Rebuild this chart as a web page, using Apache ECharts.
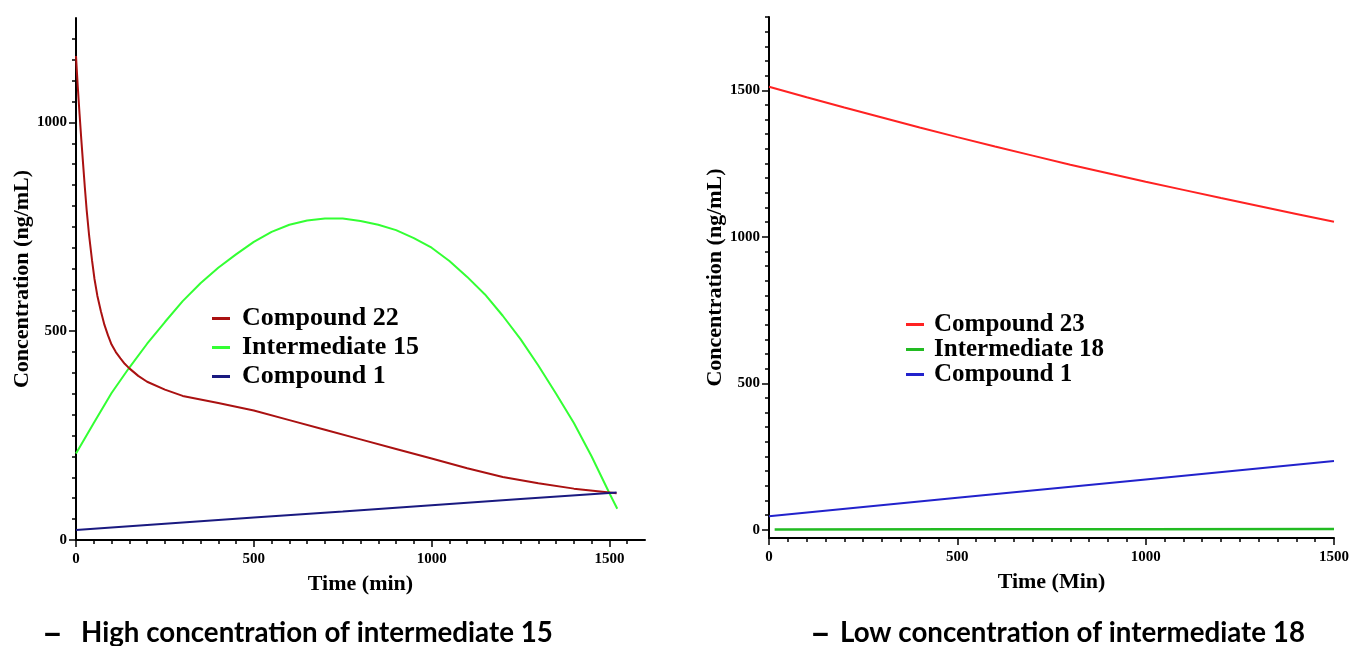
<!DOCTYPE html>
<html>
<head>
<meta charset="utf-8">
<title>Concentration vs time</title>
<script src="https://cdn.jsdelivr.net/npm/echarts@6/dist/echarts.min.js"></script>
<style>
  html, body { margin: 0; padding: 0; background: #fff; }
  #chart { width: 1352px; height: 646px; }
</style>
</head>
<body>
<div id="chart"></div>
<script>
// ---- left panel: high concentration of intermediate 15 ----
var leftTime22 = [0, 5, 10, 15, 20, 25, 30, 37, 45, 52, 60, 70, 80, 90, 100, 112, 125, 137, 150, 175, 200, 250, 300, 400, 500, 600, 700, 800, 900, 1000, 1100, 1200, 1300, 1400, 1520];
var leftConc22 = [1159, 1085, 1020, 958, 900, 843, 790, 728, 670, 625, 585, 548, 515, 490, 468, 450, 435, 422, 411, 393, 379, 360, 345, 328, 310, 287, 264, 241, 218, 195, 172, 151, 136, 123, 112];
var leftTime15 = [0, 50, 100, 150, 200, 250, 300, 350, 400, 450, 500, 550, 600, 650, 700, 750, 800, 850, 900, 950, 1000, 1050, 1100, 1150, 1200, 1250, 1300, 1350, 1400, 1450, 1500, 1522];
var leftConc15 = [207, 280, 352, 413, 470, 522, 572, 615, 652, 684, 714, 738, 755, 765, 770, 770, 764, 755, 742, 723, 700, 668, 630, 588, 537, 481, 418, 350, 280, 200, 112, 75];
var leftTime1 = [0, 250, 500, 750, 1000, 1250, 1520];
var leftConc1 = [24, 39, 54, 68, 83, 98, 114];

// ---- right panel: low concentration of intermediate 18 ----
var rightTime23 = [0, 100, 200, 300, 400, 500, 600, 700, 800, 900, 1000, 1100, 1200, 1300, 1400, 1500];
var rightConc23 = [1512, 1476, 1441, 1407, 1373, 1340, 1308, 1277, 1246, 1217, 1188, 1160, 1132, 1105, 1078, 1051];
var rightTime18 = [15, 500, 1000, 1500];
var rightConc18 = [1, 2, 2, 3];
var rightTime1 = [0, 500, 1000, 1500];
var rightConc1 = [46, 109, 172, 235];

// tick labels
var leftXTicks = [0, 500, 1000, 1500];
var leftYTicks = [0, 500, 1000];
var rightXTicks = [0, 500, 1000, 1500];
var rightYTicks = [0, 500, 1000, 1500];

var serif = '"Liberation Serif", "Times New Roman", serif';
var capFont = 'bold 27.7px Lato, "Open Sans", sans-serif';
var dashFont = 'bold 36px Lato, "Open Sans", sans-serif';

function zip(xs, ys) {
  return xs.map(function (x, i) { return [x, ys[i]]; });
}

// minor ticks every 50 for the right y axis (its min is not on a tick)
var rightYMinor = [];
for (var v = 0; v <= 1750; v += 50) rightYMinor.push(v);

function plain(v) { return String(v); }

function tickLabel(values, margin) {
  return { fontFamily: serif, fontWeight: 'bold', fontSize: 15, color: '#000', margin: margin, customValues: values, formatter: plain };
}
function majorTick(values) {
  return { show: true, length: 7, customValues: values, lineStyle: { color: '#000', width: 1.5 } };
}

function valueAxis(opt) {
  return Object.assign({
    type: 'value',
    nameLocation: 'middle',
    nameTextStyle: { fontFamily: serif, fontWeight: 'bold', fontSize: 22, color: '#000' },
    axisLine: { show: true, onZero: false, lineStyle: { color: '#000', width: 2 } },
    minorTick: { show: true, splitNumber: 10, length: 4, lineStyle: { color: '#000', width: 1.5 } },
    splitLine: { show: false },
    minorSplitLine: { show: false }
  }, opt);
}

var option = {
  backgroundColor: '#fff',
  animation: false,
  grid: [
    { left: 76, top: 18, width: 569, height: 522 },
    { left: 769, top: 17, width: 567, height: 521 }
  ],
  xAxis: [
    valueAxis({
      gridIndex: 0, min: 0, max: 1600, interval: 500,
      name: 'Time (min)', nameGap: 33,
      axisTick: majorTick(leftXTicks),
      axisLabel: tickLabel(leftXTicks, 12)
    }),
    valueAxis({
      gridIndex: 1, min: 0, max: 1500, interval: 500,
      name: 'Time (Min)', nameGap: 33,
      axisTick: majorTick(rightXTicks),
      axisLabel: tickLabel(rightXTicks, 12)
    })
  ],
  yAxis: [
    valueAxis({
      gridIndex: 0, min: 0, max: 1250, interval: 500, position: 'left',
      name: 'Concentration (ng/mL)', nameGap: 41,
      axisTick: majorTick(leftYTicks),
      axisLabel: tickLabel(leftYTicks, 9)
    }),
    valueAxis({
      gridIndex: 1, min: -28, max: 1750, position: 'left',
      name: 'Concentration (ng/mL)', nameGap: 42,
      minorTick: { show: false },
      axisTick: majorTick(rightYTicks),
      axisLabel: tickLabel(rightYTicks, 9)
    }),
    valueAxis({
      gridIndex: 1, min: -28, max: 1750, position: 'left',
      axisLine: { show: false, onZero: false },
      minorTick: { show: false },
      axisTick: { show: true, length: 4, customValues: rightYMinor, lineStyle: { color: '#000', width: 1.5 } },
      axisLabel: { show: false }
    })
  ],
  legend: [
    {
      orient: 'vertical', left: 212, top: 304, itemGap: 0, itemWidth: 18, itemHeight: 3,
      icon: 'rect', padding: 0, selectedMode: false,
      textStyle: { fontFamily: serif, fontWeight: 'bold', fontSize: 26, lineHeight: 29, color: '#000', padding: [0, 0, 0, 7] },
      data: [
        { name: 'Compound 22', itemStyle: { color: '#aa1111' } },
        { name: 'Intermediate 15', itemStyle: { color: '#33ff33' } },
        { name: 'Compound 1', itemStyle: { color: '#1a1a80' } }
      ]
    },
    {
      orient: 'vertical', left: 906, top: 312, itemGap: 0, itemWidth: 18, itemHeight: 3,
      icon: 'rect', padding: 0, selectedMode: false,
      textStyle: { fontFamily: serif, fontWeight: 'bold', fontSize: 25, lineHeight: 23, color: '#000', padding: [0, 0, 0, 5] },
      data: [
        { name: 'Compound 23', itemStyle: { color: '#ff2222' } },
        { name: 'Intermediate 18', itemStyle: { color: '#22bb22' } },
        { name: 'Compound 1', itemStyle: { color: '#2222cc' } }
      ]
    }
  ],
  graphic: [
    { type: 'text', left: 42, top: 615, style: { text: '–', font: dashFont, fill: '#000' } },
    { type: 'text', left: 81, top: 619, style: { text: 'High concentration of intermediate 15', font: capFont, fill: '#000' } },
    { type: 'text', left: 810, top: 615, style: { text: '–', font: dashFont, fill: '#000' } },
    { type: 'text', left: 840, top: 619, style: { text: 'Low concentration of intermediate 18', font: capFont, fill: '#000' } }
  ],
  series: [
    { name: 'Intermediate 15', type: 'line', xAxisIndex: 0, yAxisIndex: 0, data: zip(leftTime15, leftConc15),
      showSymbol: false, lineStyle: { color: '#33ff33', width: 2 }, itemStyle: { color: '#33ff33' } },
    { name: 'Compound 22', type: 'line', xAxisIndex: 0, yAxisIndex: 0, data: zip(leftTime22, leftConc22),
      showSymbol: false, lineStyle: { color: '#aa1111', width: 2 }, itemStyle: { color: '#aa1111' } },
    { name: 'Compound 1', type: 'line', xAxisIndex: 0, yAxisIndex: 0, data: zip(leftTime1, leftConc1),
      showSymbol: false, lineStyle: { color: '#1a1a80', width: 2 }, itemStyle: { color: '#1a1a80' } },
    { name: 'Compound 23', type: 'line', xAxisIndex: 1, yAxisIndex: 1, data: zip(rightTime23, rightConc23),
      showSymbol: false, lineStyle: { color: '#ff2222', width: 2 }, itemStyle: { color: '#ff2222' } },
    { name: 'Intermediate 18', type: 'line', xAxisIndex: 1, yAxisIndex: 1, data: zip(rightTime18, rightConc18),
      showSymbol: false, lineStyle: { color: '#22bb22', width: 2.5 }, itemStyle: { color: '#22bb22' } },
    { name: 'Compound 1', type: 'line', xAxisIndex: 1, yAxisIndex: 1, data: zip(rightTime1, rightConc1),
      showSymbol: false, lineStyle: { color: '#2222cc', width: 2 }, itemStyle: { color: '#2222cc' } }
  ]
};

var myChart = echarts.init(document.getElementById('chart'), null, { renderer: 'canvas' });
myChart.setOption(option);
window.addEventListener('resize', function () { myChart.resize(); });
</script>
</body>
</html>
